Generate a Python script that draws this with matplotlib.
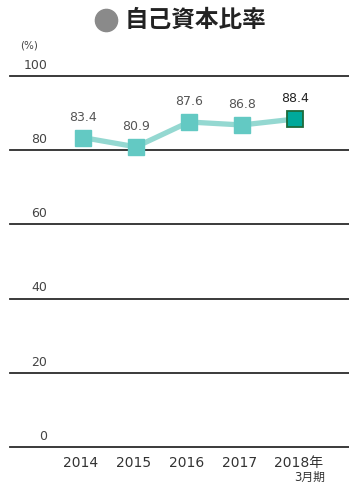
import matplotlib
matplotlib.use("Agg")
import matplotlib.pyplot as plt
from matplotlib.lines import Line2D

plt.rcParams['font.family'] = ['DejaVu Sans', 'Noto Sans CJK JP']

years = ["2014", "2015", "2016", "2017", "2018年"]
ratios = [83.4, 80.9, 87.6, 86.8, 88.4]
y_ticks = [0, 20, 40, 60, 80, 100]

W, H = 349, 484
fig = plt.figure(figsize=(W / 100, H / 100), dpi=100)
ax = fig.add_axes([10 / W, 1 - 447 / H, 339 / W, 371 / H])
ax.set_xlim(-1.377, 5.019)
ax.set_ylim(0, 100)
ax.axis("off")

# grid lines and tick labels
for v in y_ticks:
    ax.axhline(v, color="#2b2b2b", lw=1.3, clip_on=False, zorder=1)
    ax.text(-0.67, v + 2.9, str(v), ha="right", va="center",
            fontsize=9, color="#444444")
ax.text(-1.02, 108.2, "(%)", ha="center", va="center", fontsize=7.5, color="#444444")

x = list(range(len(ratios)))
ax.plot(x, ratios, color="#94d8d1", lw=3.8, zorder=2, solid_capstyle="butt")
ax.plot(x[:-1], ratios[:-1], "s", ms=11.5, color="#63c9c3", zorder=3)
ax.plot(x[-1:], ratios[-1:], "s", ms=11, color="#00a99a",
        markeredgecolor="#1d6a3a", markeredgewidth=1.3, zorder=3)

for i, v in enumerate(ratios):
    ax.text(i, v + 5.5, f"{v:.1f}", ha="center", va="center", fontsize=9,
            color="#222222" if i == len(ratios) - 1 else "#555555")

for i, lab in enumerate(years):
    ax.text(i - 0.05 + (0.12 if i == len(years) - 1 else 0), -4.3, lab,
            ha="center", va="center", fontsize=10, color="#333333")
ax.text(4.57, -8.2, "3月期", ha="right", va="center", fontsize=8.5, color="#333333")

fig.add_artist(Line2D([106 / W], [1 - 20 / H], marker="o", ms=16,
                      color="#8a8a8a", transform=fig.transFigure))
fig.text(195 / W, 1 - 20 / H, "自己資本比率", ha="center", va="center", fontsize=17,
         fontweight="bold", color="#222222", family=["Noto Sans CJK JP"])

fig.savefig("out.png", dpi=100)
